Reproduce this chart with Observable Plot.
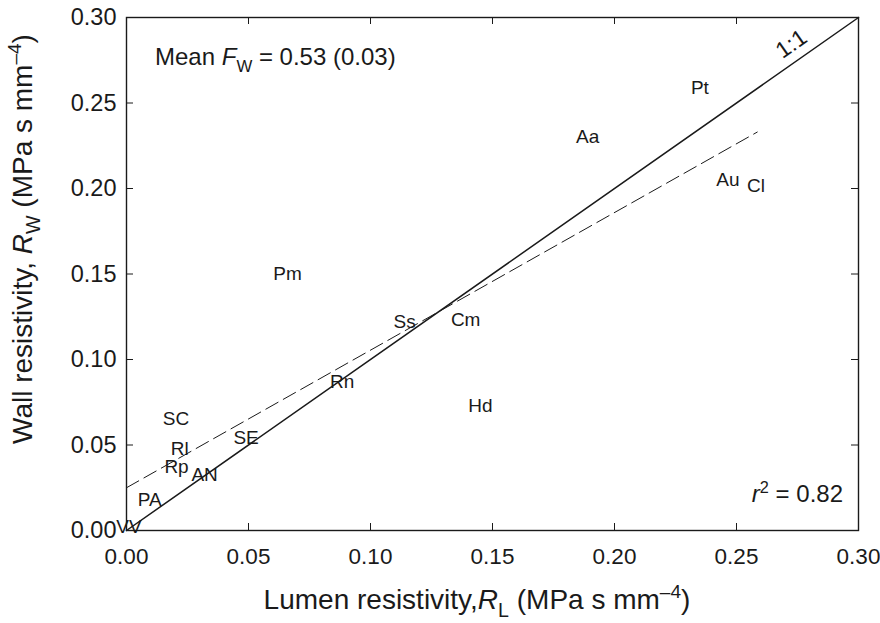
<!DOCTYPE html>
<html><head><meta charset="utf-8">
<script src="https://cdn.jsdelivr.net/npm/d3@7"></script>
<script src="https://cdn.jsdelivr.net/npm/@observablehq/plot@0.6"></script>
<style>
body{margin:0;background:#fff;}
svg{font-family:"Liberation Sans", Arial, Helvetica, sans-serif;}
</style>
</head><body><div id="chart"></div>
<script>
// Species codes used as point markers
const species = ["VV","PA","AN","Rp","Rl","SC","SE","Rn","Ss","Cm","Hd","Pm","Aa","Pt","Au","Cl"];
// Lumen resistivity R_L (MPa s mm^-4)
const lumenR = [0.001,0.0095,0.032,0.0205,0.0218,0.0203,0.049,0.0884,0.114,0.139,0.145,0.066,0.189,0.235,0.2465,0.258];
// Wall resistivity R_W (MPa s mm^-4)
const wallR  = [0.002,0.018,0.0327,0.0369,0.048,0.065,0.054,0.0868,0.122,0.123,0.073,0.150,0.230,0.259,0.205,0.2015];
// Tick values
const xTicks = [0,0.05,0.10,0.15,0.20,0.25,0.30];
const yTicks = [0,0.05,0.10,0.15,0.20,0.25,0.30];
// 1:1 line
const oneX = [0,0.3];
const oneY = [0,0.3];
// Regression fit (dashed)
const fitX = [0,0.2585];
const fitY = [0.025,0.233];
// 1:1 label position
const oneLabel = [{x:0.2725,y:0.2845,t:"1:1"}];

const points = species.map((s,i)=>({s, x: lumenR[i], y: wallR[i]}));
const oneLine = oneX.map((x,i)=>({x, y: oneY[i]}));
const fitLine = fitX.map((x,i)=>({x, y: fitY[i]}));

const W = 880, H = 623, mL = 126, mR = 22, mT = 17, mB = 93;
const fw = W - mL - mR, fh = H - mT - mB, tk = 7;
const ink = "#1a1a1a";

const chart = Plot.plot({
  width: W, height: H,
  marginLeft: mL, marginRight: mR, marginTop: mT, marginBottom: mB,
  style: {fontFamily: '"Liberation Sans", Arial, sans-serif', color: ink, background: "white", overflow: "visible"},
  x: {domain: [0,0.3]},
  y: {domain: [0,0.3]},
  marks: [
    Plot.line(fitLine, {x:"x", y:"y", stroke: ink, strokeWidth: 1, strokeDasharray: "14,6"}),
    Plot.line(oneLine, {x:"x", y:"y", stroke: ink, strokeWidth: 1.5}),
    Plot.text(points, {x:"x", y:"y", text:"s", fontSize: 19, fill: ink}),
    Plot.text(oneLabel, {x:"x", y:"y", text:"t", fontSize: 23, rotate: -35, fill: ink}),
    // inward ticks
    Plot.tickX(xTicks, {x: d=>d, insetTop: fh - tk, stroke: ink, strokeWidth: 1}),
    Plot.tickX(xTicks, {x: d=>d, insetBottom: fh - tk, stroke: ink, strokeWidth: 1}),
    Plot.tickY(yTicks, {y: d=>d, insetRight: fw - tk, stroke: ink, strokeWidth: 1}),
    Plot.tickY(yTicks, {y: d=>d, insetLeft: fw - tk, stroke: ink, strokeWidth: 1}),
    Plot.axisX(xTicks, {anchor: "bottom", tickSize: 0, tickPadding: 18, tickFormat: d3.format(".2f"), label: null, fontSize: 22.5, fill: ink}),
    Plot.axisY(yTicks, {anchor: "left", tickSize: 0, tickPadding: 10, tickFormat: d3.format(".2f"), label: null, fontSize: 23.5, fill: ink}),
    Plot.frame({stroke: ink, strokeWidth: 1.4})
  ]
});

document.getElementById("chart").appendChild(chart);

// Rich-text annotations (italic, sub/superscripts)
const svg = d3.select(chart);
function rich(x, y, anchor, size, parts, rotate) {
  const t = svg.append("text")
    .attr("x", x).attr("y", y)
    .attr("text-anchor", anchor)
    .attr("font-size", size)
    .attr("fill", ink);
  if (rotate) t.attr("transform", `rotate(${rotate},${x},${y})`);
  let shift = 0;
  for (const p of parts) {
    const s = t.append("tspan").text(p.t);
    let target = 0;
    if (p.sub) { target = 0.28*size; s.attr("font-size", size*0.7); }
    if (p.sup) { target = -0.38*size; s.attr("font-size", size*0.68); }
    if (target !== shift) { s.attr("dy", target - shift); shift = target; }
    if (p.it) s.attr("font-style", "italic");
  }
  return t;
}
rich(477, 609, "middle", 28, [
  {t:"Lumen resistivity,"},{t:"R", it:true},{t:"L", sub:true},{t:" (MPa s mm"},{t:"\u2013", sup:true},{t:"4", sup:true},{t:")"}
]);
rich(32, 239, "middle", 28, [
  {t:"Wall resistivity, "},{t:"R", it:true},{t:"W", sub:true},{t:" (MPa s mm"},{t:"\u2013", sup:true},{t:"4", sup:true},{t:")"}
], -90);
rich(155, 65, "start", 24, [
  {t:"Mean "},{t:"F", it:true},{t:"W", sub:true},{t:" = 0.53 (0.03)"}
]);
rich(843, 502, "end", 24, [
  {t:"r", it:true},{t:"2", sup:true},{t:" = 0.82"}
]);
</script>
</body></html>
